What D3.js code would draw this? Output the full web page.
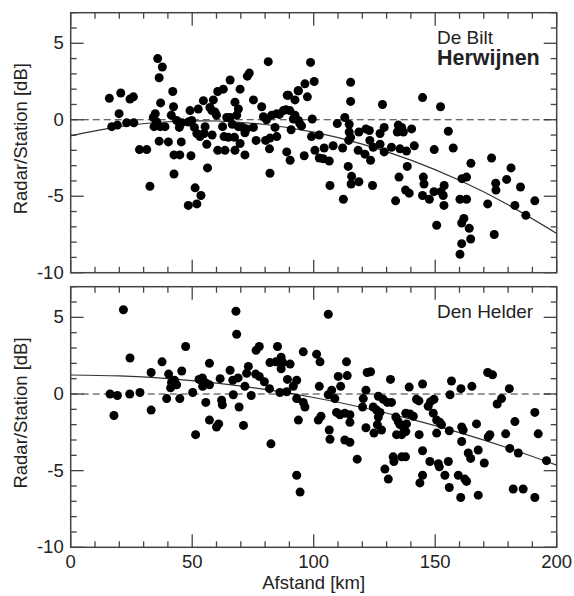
<!DOCTYPE html>
<html>
<head>
<meta charset="utf-8">
<script src="https://cdn.jsdelivr.net/npm/d3@7"></script>
<style>
  body { margin: 0; background: #fff; }
  svg text { font-family: "Liberation Sans", Arial, Helvetica, sans-serif; fill: #222; }
</style>
</head>
<body>
<svg id="chart" width="574" height="596"></svg>
<script>
// De Bilt / Herwijnen: afstand [km] en radar/station [dB]
var topDist = [15.9, 20.6, 24.4, 25.8, 19.9, 16.9, 19.2, 23, 26, 28.3, 31.3, 32.6, 35.8, 37.7, 36.4, 37,
  34.8, 34, 35.4, 34.3, 36.8, 36.4, 40.2, 38.8, 42, 42.3, 41.4, 43.6, 44.7, 45.7, 42.5, 44.9, 42.5, 45.5,
  48.4, 49.1, 49.8, 50.9, 51.9, 48.4, 51.9, 53.6, 51.2, 49.5, 52.5, 54.6, 55.3, 53.2, 54.9, 56, 56.3,
  57.3, 58.1, 59.4, 58.7, 60, 58.2, 60.5, 63.5, 60.5, 62.8, 62.5, 63.1, 65.6, 64.2, 65.6, 66.5, 64.9,
  67.4, 67.6, 69.7, 67.6, 69, 68.3, 69, 70.8, 71.7, 72.4, 69.7, 71.7, 72.7, 73.5, 75.2, 75.2, 76.3,
  78.6, 79.3, 80.6, 81.3, 80.2, 82, 81.8, 82, 84.8, 84.1, 82.7, 84.8, 85.9, 87.5, 88.6, 88.9, 90.3,
  90.7, 89.6, 93.7, 92.3, 93.7, 89.1, 90.2, 93.6, 92.3, 96.4, 97.4, 98.7, 100.2, 91.6, 94.3, 95,
  96.1, 99.4, 99.1, 102.3, 100.5, 102.3, 103.9, 106.4, 104.3, 108, 106.7, 112.2, 109.7, 112.8, 114.6,
  111.9, 114.6, 115.2, 114.4, 115.2, 115.2, 114.2, 115.6, 115.4, 118.6, 118.6, 121.5, 122.9, 118.3,
  121.1, 123.4, 123.1, 124.5, 127.3, 124.2, 128.3, 127.3, 129, 129, 132, 135.5, 134.8, 136.2, 134.4,
  136.9, 140.3, 138.2, 141.4, 138.5, 135.1, 133.7, 137.8, 139.3, 145.4, 145.1, 144.8, 147.6, 144.8,
  152.2, 149.6, 149.5, 152.4, 153.3, 153.7, 153.6, 155.4, 157.4, 150.6, 161, 162.9, 164.7, 160.2,
  162.9, 161.8, 160.9, 164, 164.6, 160.9, 160.2, 171.6, 173.2, 174.9, 175, 174.3, 179.4, 181.2,
  185.1, 182.8, 187.3, 191];
var topRatio = [1.4, 1.75, 1.35, 1.5, 0.4, -0.45, -0.35, -0.2, -0.2, -1.95, -1.95, -4.35, 4.0, 3.45, 2.75, 1.1,
  0.4, 0.15, -0.15, -0.45, -0.45, -1.4, -1.45, -0.45, 1.85, 0.85, 0.3, -0.05, -0.5, -0.2, -2.3, -2.3, -3.55, -1.45,
  -0.15, 0.6, -0.05, -0.5, -0.9, -5.6, -5.5, -4.95, -4.45, -2.35, 0.7, 1.25, -0.45, -1.1, -0.9, -1.6, -3.15,
  0.8, 0.6, 0.5, 1.3, 0.3, -1.0, -2.0, -2.0, 1.85, 2.0, -0.45, -1.1, 2.6, 0.15, 0.15, -0.3, -1.15,
  -1.15, -2.0, 2.0, 1.15, 0.7, 0.3, -0.45, -0.5, -0.85, -0.6, -1.55, -2.3, 2.85, 3.05, 1.3, -0.5, -1.35,
  0.85, 0.2, 0, 3.8, -1.35, -1.2, -1.9, -3.5, -1.1, -0.5, 0.3, 0.4, 0.35, 0.6, 0.65, -2.1, -2.65,
  -0.65, 1.6, 1.9, 0.3, -0.05, 1.6, 0.6, 1.9, 1.3, 2.35, 1.5, 3.75, 2.5, 0.05, -0.25, -0.4,
  -2.35, 0.05, -1.1, -1.0, -2.0, -2.5, -2.55, -2.7, -1.85, -1.7, -4.3, -5.2, -0.25, 0.15, -0.3,
  -1.85, -0.8, -1.15, -1.35, 2.45, 1.2, -3.05, -3.7, -4.2, -4.05, -0.8, -0.6, -0.7, -2.0,
  -2.25, -2.65, -1.35, -1.8, -1.6, -4.3, 1.0, -0.9, -0.5, -2.1, -1.8, -1.9, -0.35, -0.5, -0.8,
  -0.8, -0.6, -2.05, -1.7, -3.05, -3.75, -5.3, -4.6, -4.8, -4.2, -3.75, -4.95, -5.2, 1.45,
  0.85, -1.95, -4.7, -4.7, -4.95, -4.3, -5.6, -0.75, -1.85, -6.9, -3.85, -3.75, -2.85, -5.2,
  -5.2, -6.45, -6.75, -7.1, -7.8, -8.1, -8.8, -5.5, -2.5, -4.15, -4.6, -7.5, -3.9, -3.15,
  -4.4, -5.6, -6.25, -5.3];

// Den Helder
var botDist = [16.2, 17.8, 19.2, 21.7, 24.4, 24.3, 28.5, 33.1, 33.1, 37.6, 39.5, 40.3, 41.5, 41.1, 43.6, 42.7,
  44.9, 45.7, 47.3, 50.2, 51.4, 52.8, 54.2, 54.3, 55.3, 57.1, 55.6, 57.1, 57.1, 60, 60.9, 61.5, 62.1, 62.4,
  65.6, 66.9, 66.7, 68, 68.3, 68.9, 69.3, 71.1, 71.7, 73.1, 72.4, 74.3, 76.3, 77.6, 76.1, 77.6, 79.7, 81.8,
  82.4, 82, 84.4, 85.1, 86.6, 87.3, 86.6, 86.1, 88.9, 89.2, 90.3, 93, 91.6, 93, 93.7, 93, 94.4,
  95.7, 96.4, 95.7, 101.2, 102.6, 106, 102.3, 101.9, 103, 106, 107.4, 106.4, 106.7, 108.7, 109.4, 110.8,
  110.1, 111.1, 113.5, 113.8, 112.8, 114.9, 114.9, 112.8, 114.9, 117.9, 120.4, 121.5, 120.1, 121.5,
  122, 123.4, 124.5, 125.9, 126.6, 127.3, 126.2, 124.8, 127.9, 126.6, 128.6, 130.3, 132, 131.6,
  129.3, 130.7, 132.7, 133, 133.8, 134.8, 134.1, 136.2, 135.5, 136.9, 138.2, 137.9, 136.2, 137.8,
  137.9, 139.6, 141, 139.3, 143.4, 142.3, 143.3, 144.8, 144.8, 144.8, 143.7, 147.1, 148.1, 149.5,
  149.2, 150.6, 151.9, 152.6, 150.6, 147.8, 151.3, 151.7, 154, 155.8, 155.4, 155.8, 156.1, 156.7,
  159.5, 162.2, 162.9, 160.5, 160.9, 161.5, 160.9, 160.6, 163.6, 164.6, 165.1, 167, 167.7, 167.7,
  170.2, 171.6, 173.6, 171.8, 172.5, 175.5, 177.3, 180.5, 179, 180.7, 182.8, 182.1, 186.2, 184.2,
  191, 192.4, 191, 195.8];
var botRatio = [0, -1.4, -0.1, 5.5, 2.35, 0, 0.1, 1.4, -1.05, 2.1, -0.3, 1.3, 0.75, 0.4, 0.6, 0.9,
  -0.3, 1.5, 3.1, 0.1, -2.65, 0.95, 1.05, 0.5, 0.75, 0.6, -0.55, 2.0, -1.7, -2.15, -1.95, 1.0, -0.4, -0.7,
  1.55, -0.05, 0.9, 5.4, 3.9, 1.05, -0.85, -2.05, 0.5, 1.8, 1.35, -0.1, 2.85, 3.1, 1.3, 1.15, 0.8, 0.35,
  -3.25, 2.05, 2.1, 3.1, 2.4, 2.05, 1.65, 0.1, 0.15, 0.95, 1.95, 0.9, 0.5, -0.3, -1.7, -5.3, -6.4,
  -0.55, -0.85, 2.75, 2.6, 2.1, 5.2, 0.5, -1.7, -1.45, -0.05, 0.25, -2.35, -2.95, -0.3, -1.2, -1.35,
  1.15, 0.5, 2.1, 1.2, -1.25, -1.35, -1.85, -3.0, -3.15, -4.25, -0.3, 0.25, -0.85, -2.2,
  1.4, 1.45, -0.85, -1.05, -1.5, -1.2, -2.0, -2.55, -2.35, -0.15, -0.35, -0.55, -0.55, 0.95,
  -4.9, -5.55, -4.1, -4.4, -1.5, -1.8, -2.65, -2.65, -2.0, -2.15, -1.95, -2.45, -4.1, -4.1,
  -1.25, -1.3, -1.45, 0.45, -2.65, -0.35, -0.45, 0.65, -3.7, -5.3, -5.8, -0.8, -0.5, -0.35,
  -1.25, -1.7, -1.85, -2.0, -2.55, -4.4, -4.55, -4.75, -5.3, -6.1, -4.4, -2.4, -0.05, 0.85,
  -5.3, -5.55, -5.7, -6.75, -2.15, -2.35, -3.1, 0.35, -3.85, -4.2, 0.5, -1.95, -3.65, -6.6,
  -4.5, 1.4, 1.25, -2.8, -2.65, -0.65, -0.3, 0.35, -2.6, -3.55, -1.8, -6.2, -6.2, -3.85,
  -1.2, -2.6, -6.75, -4.35];

var fitDist = [0, 20, 40, 60, 80, 100, 120, 140, 160, 180, 200];
var topFit = [-1.05, -0.45, -0.13, -0.08, -0.31, -0.81, -1.59, -2.64, -3.96, -5.56, -7.43];
var botFit = [1.24, 1.18, 1.0, 0.71, 0.3, -0.23, -0.88, -1.64, -2.52, -3.52, -4.64];

var xTicks = [0, 50, 100, 150, 200];
var yTicks = [-10, -5, 0, 5];

var svg = d3.select("#chart");
var left = 70.7, right = 556.7;

var x = d3.scaleLinear().domain([0, 200]).range([left, right]);

function drawPanel(top, bottom, dist, ratio, fit, labels, showX) {
    var y = d3.scaleLinear().domain([-10, 7]).range([bottom, top]);
    var g = svg.append("g");

    // tick marks on all four sides, pointing inward
    var minorX = d3.range(0, 201, 10), minorY = d3.range(-10, 8, 1);
    g.selectAll(".tb").data(minorX).enter().append("line")
        .attr("x1", d => x(d)).attr("x2", d => x(d))
        .attr("y1", bottom).attr("y2", d => bottom - (d % 50 == 0 ? 13 : 6))
        .attr("stroke", "#444").attr("stroke-width", 1.3);
    g.selectAll(".tt").data(minorX).enter().append("line")
        .attr("x1", d => x(d)).attr("x2", d => x(d))
        .attr("y1", top).attr("y2", d => top + (d % 50 == 0 ? 13 : 6))
        .attr("stroke", "#444").attr("stroke-width", 1.3);
    g.selectAll(".tl").data(minorY).enter().append("line")
        .attr("y1", d => y(d)).attr("y2", d => y(d))
        .attr("x1", left).attr("x2", d => left + (d % 5 == 0 ? 13 : 6))
        .attr("stroke", "#444").attr("stroke-width", 1.3);
    g.selectAll(".tr").data(minorY).enter().append("line")
        .attr("y1", d => y(d)).attr("y2", d => y(d))
        .attr("x1", right).attr("x2", d => right - (d % 5 == 0 ? 13 : 6))
        .attr("stroke", "#444").attr("stroke-width", 1.3);

    g.append("rect")
        .attr("x", left).attr("y", top)
        .attr("width", right - left).attr("height", bottom - top)
        .attr("fill", "none").attr("stroke", "#444").attr("stroke-width", 1.5);

    g.selectAll(".yl").data(yTicks).enter().append("text")
        .attr("x", left - 7).attr("y", d => y(d) + 6)
        .attr("text-anchor", "end").attr("font-size", 18.5)
        .text(d => d);

    if (showX) {
        g.selectAll(".xl").data(xTicks).enter().append("text")
            .attr("x", d => x(d)).attr("y", bottom + 21)
            .attr("text-anchor", "middle").attr("font-size", 18.5)
            .text(d => d);
    }

    g.append("text")
        .attr("transform", `translate(27, ${(top + bottom) / 2 - 4}) rotate(-90)`)
        .attr("text-anchor", "middle").attr("font-size", 18.5)
        .text("Radar/Station [dB]");

    // nul-lijn
    g.append("line")
        .attr("x1", left).attr("x2", right)
        .attr("y1", y(0)).attr("y2", y(0))
        .attr("stroke", "#333").attr("stroke-width", 1.2)
        .attr("stroke-dasharray", "7,4");

    var line = d3.line()
        .x((d, i) => x(fitDist[i]))
        .y(d => y(d))
        .curve(d3.curveNatural);
    g.append("path")
        .attr("d", line(fit))
        .attr("fill", "none").attr("stroke", "#333").attr("stroke-width", 1.2);

    g.selectAll("circle").data(dist).enter().append("circle")
        .attr("cx", d => x(d))
        .attr("cy", (d, i) => y(ratio[i]))
        .attr("r", 4.5)
        .attr("fill", "#000");

    labels.forEach(function(l) {
        g.append("text")
            .attr("x", 437).attr("y", top + l.dy)
            .attr("font-size", l.size)
            .attr("font-weight", l.bold ? "bold" : "normal")
            .text(l.text);
    });
}

drawPanel(12.7, 272.7, topDist, topRatio, topFit,
    [{text: "De Bilt", dy: 31, size: 19}, {text: "Herwijnen", dy: 52, size: 21.5, bold: true}], false);
drawPanel(286.7, 547.3, botDist, botRatio, botFit,
    [{text: "Den Helder", dy: 31, size: 19}], true);

svg.append("text")
    .attr("x", x(100)).attr("y", 589)
    .attr("text-anchor", "middle").attr("font-size", 18.5)
    .text("Afstand [km]");
</script>
</body>
</html>
